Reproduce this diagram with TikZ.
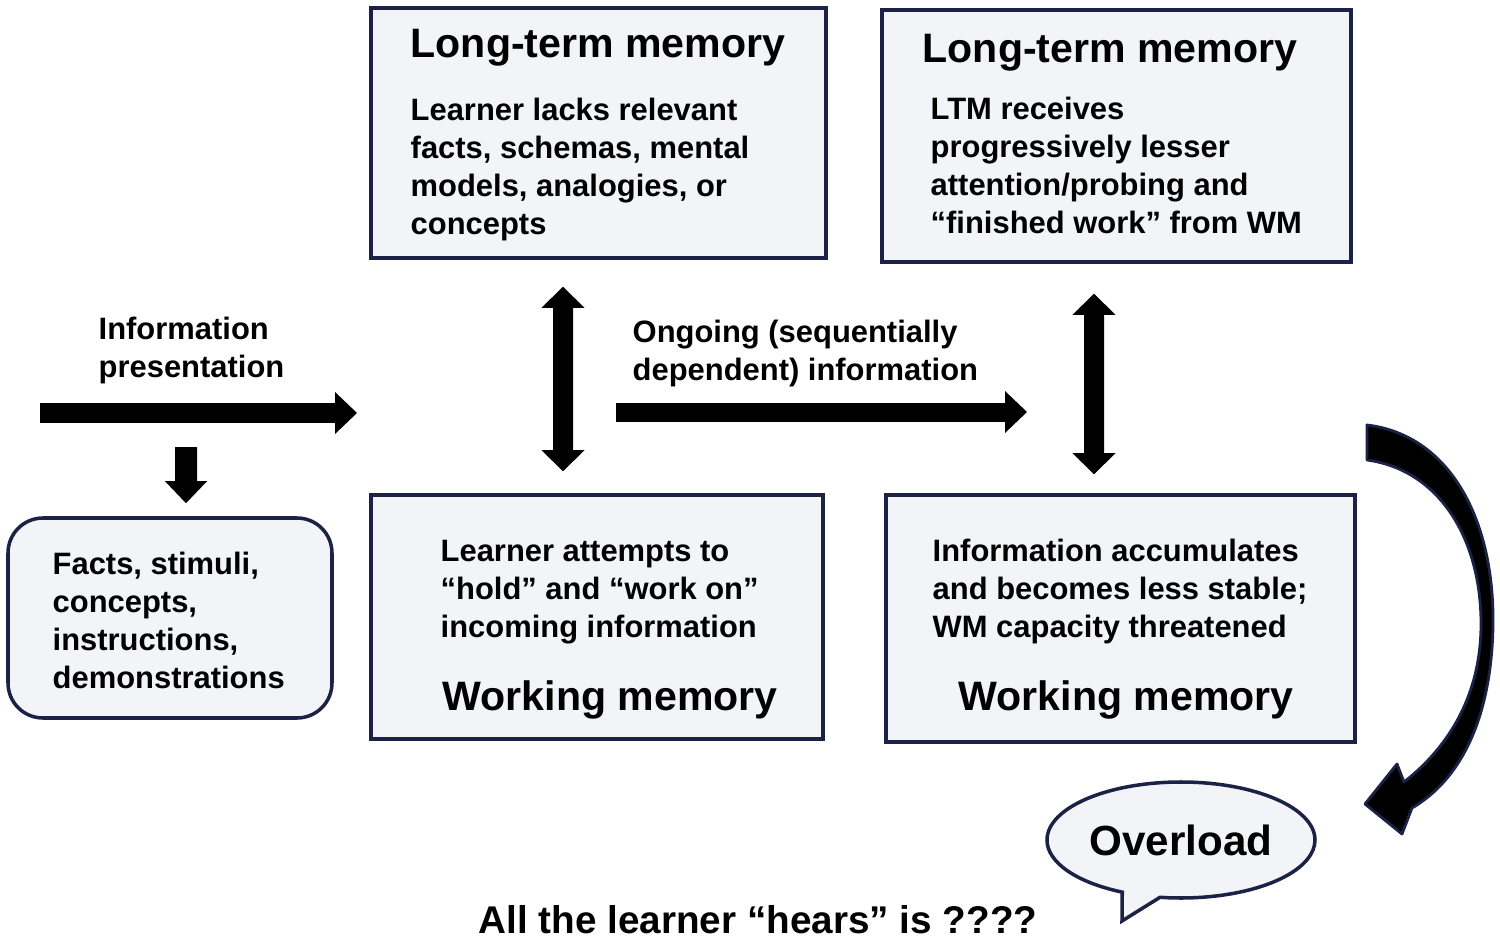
\documentclass[tikz,border=0pt]{standalone}
\usepackage{fontspec}
\setmainfont{Liberation Sans}
\usetikzlibrary{arrows.meta,shapes.callouts}

\definecolor{navy}{RGB}{28,34,70}
\definecolor{boxgray}{RGB}{243,244,247}

\tikzset{
    box/.style={draw=navy, fill=boxgray, line width=1pt, inner sep=0pt},
    txt/.style={anchor=base west, align=left, inner sep=0pt,
                font=\fontsize{8.8}{10.73}\selectfont\bfseries},
    head/.style={anchor=base west, inner sep=0pt,
                 font=\fontsize{11.7}{14}\selectfont\bfseries},
    bigarrow/.style={line width=2mm, -{Triangle[width=4.2mm,length=2.2mm,line width=0pt]}},
    dblarrow/.style={line width=2mm, {Triangle[width=4.3mm,length=2.1mm,line width=0pt]}-{Triangle[width=4.3mm,length=2.1mm,line width=0pt]}}
}

\begin{document}
\begin{tikzpicture}
    \useasboundingbox (0,0) rectangle (15,9.4);

    % boxes
    \node[box, minimum width=4.55cm, minimum height=2.50cm] (ltmA) at (5.985,8.07) {};
    \node[box, minimum width=4.69cm, minimum height=2.52cm] (ltmB) at (11.165,8.04) {};
    \node[box, minimum width=4.52cm, minimum height=2.44cm] (wmA)  at (5.970,3.23) {};
    \node[box, minimum width=4.69cm, minimum height=2.47cm] (wmB)  at (11.205,3.215) {};
    \node[box, rounded corners=0.35cm, minimum width=3.24cm, minimum height=2.00cm] (facts) at (1.70,3.22) {};

    % text blocks sit on the baseline of their last line
    \node[head] (ltmAtitle) at (4.10,8.83) {Long-term memory};
    \node[txt]  (ltmAtext)  at (4.10,7.059) {Learner lacks relevant\\facts, schemas, mental\\models, analogies, or\\concepts};

    \node[head] (ltmBtitle) at (9.22,8.77) {Long-term memory};
    \node[txt]  (ltmBtext)  at (9.30,7.069) {LTM receives\\progressively lesser\\attention/probing and\\“finished work” from WM};

    \node[txt]  (wmAtext)  at (4.40,3.026) {Learner attempts to\\“hold” and “work on”\\incoming information};
    \node[head] (wmAtitle) at (4.42,2.30) {Working memory};

    \node[txt]  (wmBtext)  at (9.32,3.026) {Information accumulates\\and becomes less stable;\\WM capacity threatened};
    \node[head] (wmBtitle) at (9.58,2.30) {Working memory};

    \node[txt] (factstext) at (0.52,2.519) {Facts, stimuli,\\concepts,\\instructions,\\demonstrations};

    % arrows
    \coordinate (inL) at (0.40,5.27);
    \coordinate (inR) at (3.57,5.27);
    \coordinate (split) at (1.86,4.93);
    \coordinate (onL) at (6.16,5.28);
    \coordinate (onR) at (10.27,5.28);

    \node[txt] (inlabel) at (0.98,5.623) {Information\\presentation};
    \node[txt] (onlabel) at (6.32,5.593) {Ongoing (sequentially\\dependent) information};

    \draw[bigarrow] (inL) -- (inR);
    \draw[bigarrow, line width=2.2mm] (split) -- ([xshift=1.6mm,yshift=1.3mm]facts.north);
    \draw[bigarrow, line width=1.9mm] (onL) -- (onR);
    \draw[dblarrow] ([xshift=-3.55mm,yshift=-2.7mm]ltmA.south) -- ([xshift=-3.4mm,yshift=2.2mm]wmA.north);
    \draw[dblarrow] ([xshift=-2.25mm,yshift=-3.0mm]ltmB.south) -- ([xshift=-2.65mm,yshift=1.9mm]wmB.north);

    % curved arrow
    \draw[navy, line width=0.8pt, fill=black, line join=round]
        (13.67,5.15) .. controls (14.5,5.05) and (14.95,4.2) .. (14.93,3.13)
        .. controls (14.91,2.2) and (14.6,1.6) .. (14.12,1.32)
        -- (14.02,1.06) -- (13.65,1.36) -- (13.97,1.76) -- (14.04,1.58)
        .. controls (14.45,1.9) and (14.80,2.4) .. (14.81,3.13)
        .. controls (14.82,4.0) and (14.4,4.7) .. (13.67,4.80) -- cycle;

    \node[ellipse callout, draw=navy, fill=boxgray, line width=1pt,
          minimum width=2.68cm, minimum height=1.16cm, inner sep=0pt,
          callout absolute pointer={(11.22,0.19)}, callout pointer arc=17,
          font=\fontsize{12}{14}\selectfont\bfseries] (overload) at (11.81,1.00) {Overload};

    \node[anchor=base, inner sep=0pt, font=\fontsize{11}{13}\selectfont\bfseries] (hears) at (7.58,0.07)
        {All the learner “hears” is ????};
\end{tikzpicture}
\end{document}
